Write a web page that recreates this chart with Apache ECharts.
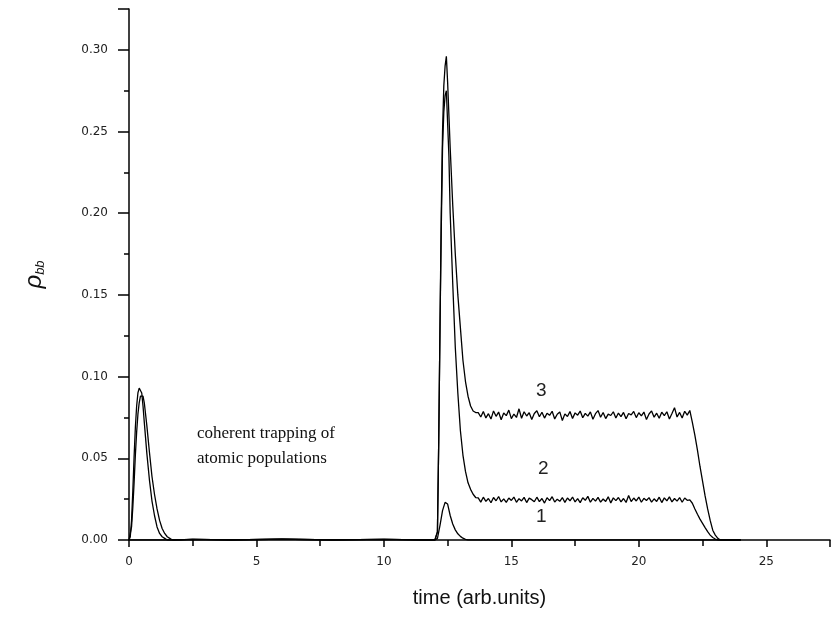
<!DOCTYPE html>
<html>
<head>
<meta charset="utf-8">
<script src="https://cdn.jsdelivr.net/npm/echarts@6/dist/echarts.min.js"></script>
<style>
html,body{margin:0;padding:0;background:#fff;}
#chart{width:833px;height:628px;}
</style>
</head>
<body>
<div id="chart"></div>
<script>
// ---- data ----
const xTicks = [0, 5, 10, 15, 20, 25];
const yTicks = [0.00, 0.05, 0.10, 0.15, 0.20, 0.25, 0.30];

// first (probe) pulse, two traces
const pulseT = [0,0.05,0.1,0.15,0.2,0.25,0.3,0.35,0.4,0.45,0.5,0.55,0.6,0.7,0.8,0.9,1.0,1.1,1.2,1.3,1.4,1.5,1.6,1.7,1.8];
const pulseA = [0,0.002,0.012,0.03,0.051,0.069,0.082,0.09,0.093,0.094,0.09,0.082,0.072,0.053,0.037,0.024,0.015,0.008,0.004,0.002,0.001,0,0,0,0];
const pulseB = [0,0.001,0.008,0.02,0.035,0.052,0.066,0.077,0.084,0.088,0.089,0.088,0.084,0.07,0.054,0.039,0.028,0.019,0.012,0.007,0.004,0.002,0.001,0,0];

// quiet interval between pulses
const gapT = [2.5, 4.0, 6.0, 8.0, 10.0, 11.5, 12.0];
const gapV = [0.0004, 0, 0.0005, 0, 0.0004, 0, 0];

// second pulse: rise and decay to plateau (curves 3 and 2)
const riseT = [12.05,12.1,12.15,12.2,12.25,12.3,12.35,12.4,12.45,12.5,12.55,12.6,12.7,12.8,12.9,13.0,13.1,13.2,13.3,13.4,13.5,13.6];
const c3Rise = [0,0.005,0.06,0.13,0.2,0.25,0.278,0.29,0.296,0.28,0.26,0.24,0.205,0.175,0.15,0.13,0.11,0.097,0.088,0.082,0.079,0.078];
const c2Rise = [0,0.005,0.06,0.13,0.19,0.24,0.262,0.272,0.275,0.255,0.235,0.2,0.157,0.118,0.09,0.067,0.052,0.042,0.035,0.031,0.028,0.026];

// noisy plateaus
const plateauT = [13.7,13.8,13.9,14.0,14.1,14.2,14.3,14.4,14.5,14.6,14.7,14.8,14.9,15.0,15.1,15.2,15.3,15.4,15.5,15.6,15.7,15.8,15.9,16.0,16.1,16.2,16.3,16.4,16.5,16.6,16.7,16.8,16.9,17.0,17.1,17.2,17.3,17.4,17.5,17.6,17.7,17.8,17.9,18.0,18.1,18.2,18.3,18.4,18.5,18.6,18.7,18.8,18.9,19.0,19.1,19.2,19.3,19.4,19.5,19.6,19.7,19.8,19.9,20.0,20.1,20.2,20.3,20.4,20.5,20.6,20.7,20.8,20.9,21.0,21.1,21.2,21.3,21.4,21.5,21.6,21.7,21.8,21.9,22.0];
const c3Plateau = [0.0780,0.0753,0.0787,0.0747,0.0773,0.0740,0.0790,0.0757,0.0783,0.0736,0.0777,0.0761,0.0795,0.0743,0.0771,0.0750,0.0803,0.0745,0.0785,0.0759,0.0779,0.0738,0.0774,0.0791,0.0754,0.0782,0.0746,0.0776,0.0763,0.0788,0.0741,0.0770,0.0784,0.0731,0.0772,0.0756,0.0786,0.0744,0.0778,0.0764,0.0789,0.0748,0.0775,0.0758,0.0784,0.0739,0.0773,0.0792,0.0751,0.0780,0.0743,0.0770,0.0762,0.0785,0.0747,0.0777,0.0755,0.0781,0.0742,0.0774,0.0766,0.0787,0.0749,0.0779,0.0760,0.0783,0.0737,0.0771,0.0790,0.0752,0.0776,0.0745,0.0782,0.0761,0.0785,0.0741,0.0774,0.0810,0.0753,0.0781,0.0747,0.0788,0.0764,0.0793];
const c2Plateau = [0.0258,0.0232,0.0262,0.0236,0.0254,0.0228,0.0260,0.0240,0.0266,0.0233,0.0252,0.0230,0.0257,0.0242,0.0263,0.0231,0.0253,0.0239,0.0261,0.0229,0.0256,0.0247,0.0234,0.0262,0.0235,0.0254,0.0226,0.0259,0.0241,0.0265,0.0232,0.0250,0.0237,0.0260,0.0230,0.0257,0.0240,0.0263,0.0233,0.0253,0.0229,0.0259,0.0243,0.0267,0.0231,0.0255,0.0238,0.0261,0.0232,0.0251,0.0236,0.0264,0.0227,0.0258,0.0241,0.0260,0.0233,0.0254,0.0230,0.0272,0.0235,0.0257,0.0239,0.0263,0.0231,0.0255,0.0242,0.0259,0.0232,0.0252,0.0236,0.0262,0.0229,0.0258,0.0240,0.0264,0.0233,0.0254,0.0238,0.0260,0.0231,0.0257,0.0243,0.0245];

// switch-off decay
const fallT = [22.1,22.2,22.3,22.4,22.5,22.6,22.7,22.8,22.9,23.0,23.1,23.2,23.3,24.0];
const c3Fall = [0.072,0.064,0.055,0.045,0.036,0.027,0.019,0.012,0.006,0.003,0.001,0,0,0];
const c2Fall = [0.0225,0.019,0.0158,0.0128,0.0102,0.0076,0.0051,0.003,0.0015,0.0006,0,0,0,0];

// curve 1: small transient
const c1T = [12.05,12.1,12.2,12.3,12.4,12.45,12.5,12.6,12.7,12.8,12.9,13.0,13.1,13.2,13.3,13.4,24.0];
const c1V = [0,0.001,0.009,0.018,0.023,0.024,0.022,0.015,0.0098,0.0062,0.0038,0.0022,0.0011,0.0004,0,0,0];

const curveLabels = ['1', '2', '3'];
const noteLines = ['coherent trapping of', 'atomic populations'];

// ---- build series ----
function zip(t, v) { const n = Math.min(t.length, v.length); const out = []; for (let i = 0; i < n; i++) out.push([t[i], v[i]]); return out; }
const curve3 = [].concat(zip(pulseT, pulseA), zip(gapT, gapV), zip(riseT, c3Rise), zip(plateauT, c3Plateau), zip(fallT, c3Fall));
const curve2 = [].concat(zip(pulseT, pulseB), zip(gapT, gapV), zip(riseT, c2Rise), zip(plateauT, c2Plateau), zip(fallT, c2Fall));
const curve1 = [].concat(zip([0, 2.0], [0, 0]), zip(gapT, gapV), zip(c1T, c1V));

const FONT = 'Liberation Sans, Arial, sans-serif';
const TICKFONT = 'DejaVu Sans, Liberation Sans, sans-serif';
const lineStyle = { color: '#000', width: 1.3 };

const chart = echarts.init(document.getElementById('chart'), null, { renderer: 'canvas' });
chart.setOption({
  animation: false,
  backgroundColor: '#fff',
  grid: { left: 129, top: 9, width: 712, height: 531, containLabel: false },
  xAxis: {
    type: 'value', min: 0, max: 27.5, interval: 5,
    axisLine: { show: true, lineStyle: { color: '#000', width: 1.5 } },
    axisTick: { show: true, length: 7, lineStyle: { color: '#000', width: 1.5 } },
    minorTick: { show: true, splitNumber: 2, length: 6, lineStyle: { color: '#000', width: 1.5 } },
    splitLine: { show: false },
    axisLabel: { margin: 16, fontSize: 12, color: '#222', fontFamily: TICKFONT,
      formatter: v => xTicks.indexOf(v) >= 0 ? String(v) : '' },
    name: 'time (arb.units)', nameLocation: 'middle', nameGap: 48,
    nameTextStyle: { fontSize: 20, color: '#111', fontFamily: FONT }
  },
  yAxis: {
    type: 'value', min: 0, max: 0.325, interval: 0.05,
    axisLine: { show: true, lineStyle: { color: '#000', width: 1.5 } },
    axisTick: { show: true, length: 11, lineStyle: { color: '#000', width: 1.5 } },
    minorTick: { show: true, splitNumber: 2, length: 5, lineStyle: { color: '#000', width: 1.5 } },
    splitLine: { show: false },
    axisLabel: { margin: 21, fontSize: 12, color: '#222', fontFamily: TICKFONT, showMaxLabel: false,
      formatter: v => { const t = yTicks.find(y => Math.abs(y - v) < 1e-9); return t === undefined ? '' : t.toFixed(2); } },
    name: '{r|ρ}{s|bb}', nameLocation: 'middle', nameGap: 82, nameRotate: 90,
    nameTextStyle: {
      rich: {
        r: { fontSize: 24, fontStyle: 'italic', fontFamily: FONT, color: '#111' },
        s: { fontSize: 13, fontStyle: 'italic', fontFamily: FONT, color: '#111', verticalAlign: 'bottom', padding: [12, 0, 0, 0] }
      }
    }
  },
  series: [
    { name: '3', type: 'line', data: curve3, showSymbol: false, lineStyle: lineStyle, z: 3 },
    { name: '2', type: 'line', data: curve2, showSymbol: false, lineStyle: lineStyle, z: 3 },
    { name: '1', type: 'line', data: curve1, showSymbol: false, lineStyle: lineStyle, z: 3 }
  ],
  graphic: [
    { type: 'text', left: 536, top: 381, style: { text: curveLabels[2], fontSize: 19, fontFamily: FONT, fill: '#222' } },
    { type: 'text', left: 538, top: 459, style: { text: curveLabels[1], fontSize: 19, fontFamily: FONT, fill: '#222' } },
    { type: 'text', left: 536, top: 507, style: { text: curveLabels[0], fontSize: 19, fontFamily: FONT, fill: '#222' } },
    { type: 'text', left: 197, top: 421, style: { text: noteLines.join('\n'), fontSize: 17, lineHeight: 25, fontFamily: 'Liberation Serif, Times New Roman, serif', fill: '#111' } }
  ]
});
</script>
</body>
</html>
